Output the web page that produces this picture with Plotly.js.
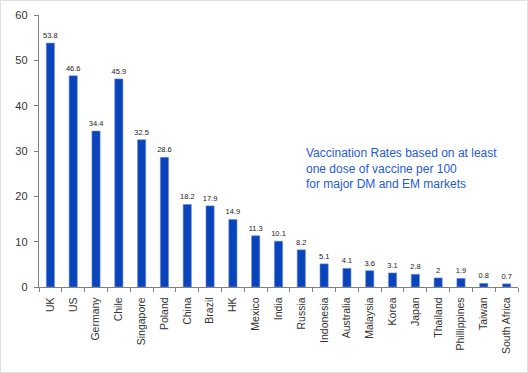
<!DOCTYPE html>
<html>
<head>
<meta charset="utf-8">
<script src="https://cdn.plot.ly/plotly-3.0.1.min.js"></script>
<style>
html,body{margin:0;padding:0;background:#fff;}
#wrap{position:relative;width:528px;height:373px;}
#chart{width:528px;height:373px;}
#frame{position:absolute;left:0;top:0;width:526px;height:371px;border:1px solid #e0e0e0;pointer-events:none;}
</style>
</head>
<body>
<div id="wrap"><div id="chart"></div><div id="frame"></div></div>
<script>
const countries = ["UK","US","Germany","Chile","Singapore","Poland","China","Brazil","HK","Mexico","India","Russia","Indonesia","Australia","Malaysia","Korea","Japan","Thailand","Phillippines","Taiwan","South Africa"];
const rates = [53.8,46.6,34.4,45.9,32.5,28.6,18.2,17.9,14.9,11.3,10.1,8.2,5.1,4.1,3.6,3.1,2.8,2,1.9,0.8,0.7];
const rateLabels = ["53.8","46.6","34.4","45.9","32.5","28.6","18.2","17.9","14.9","11.3","10.1","8.2","5.1","4.1","3.6","3.1","2.8","2","1.9","0.8","0.7"];

const trace = {
  type: "bar",
  x: countries,
  y: rates,
  text: rateLabels,
  textposition: "outside",
  constraintext: "none",
  cliponaxis: false,
  textfont: {family: "Liberation Sans, Arial, sans-serif", size: 7.5, color: "#222"},
  marker: {color: "#0a44bb", line: {color: "#6f8fe0", width: 0.6}},
  hoverinfo: "skip"
};

const layout = {
  width: 528, height: 373,
  margin: {l: 39, r: 10, t: 15, b: 86},
  paper_bgcolor: "#fff", plot_bgcolor: "#fff",
  bargap: 0.64,
  showlegend: false,
  font: {family: "Liberation Sans, Arial, sans-serif", color: "#333"},
  xaxis: {
    type: "category",
    tickangle: -90,
    tickfont: {size: 10.5, color: "#333"},
    ticklabelstandoff: 5,
    showline: true, linecolor: "#808080", linewidth: 1.2,
    ticks: "outside", ticklen: 4, tickcolor: "#808080",
    tickson: "boundaries",
    showgrid: false, zeroline: false
  },
  yaxis: {
    range: [0, 60], dtick: 10,
    tickfont: {size: 11, color: "#333"},
    ticklabelstandoff: 4,
    showline: true, linecolor: "#808080", linewidth: 1.2,
    ticks: "outside", ticklen: 4, tickcolor: "#808080",
    showgrid: false, zeroline: false
  },
  annotations: [{
    xref: "paper", yref: "paper",
    x: 0.553, y: 0.345, xanchor: "left", yanchor: "bottom",
    align: "left", showarrow: false,
    text: "Vaccination Rates based on at least<br>one dose of vaccine per 100<br>for major DM and EM markets",
    font: {family: "Liberation Sans, Arial, sans-serif", size: 12, color: "#1f5bd6"}
  }]
};

Plotly.newPlot("chart", [trace], layout, {displayModeBar: false, staticPlot: true});
</script>
</body>
</html>
